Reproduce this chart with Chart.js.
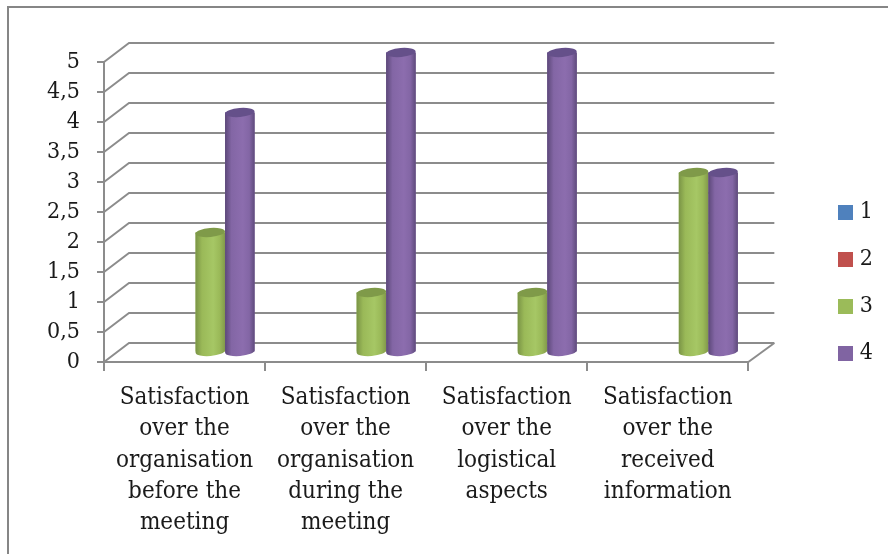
<!DOCTYPE html>
<html>
<head>
<meta charset="utf-8">
<title>Satisfaction</title>
<script src="https://cdn.jsdelivr.net/npm/chart.js@4"></script>
<style>
  html, body { margin: 0; padding: 0; background: #fff; }
  #frame { position: absolute; left: 7px; top: 6px; right: 0; bottom: 0; border-left: 2px solid #868686; border-top: 2px solid #868686; }
  #wrap { position: absolute; left: 0; top: 0; width: 888px; height: 554px; }
</style>
</head>
<body>
<div id="frame"></div>
<div id="wrap"><canvas id="satisfactionChart"></canvas></div>
<script>
const categories = [
    ['Satisfaction', 'over the', 'organisation', 'before the', 'meeting'],
    ['Satisfaction', 'over the', 'organisation', 'during the', 'meeting'],
    ['Satisfaction', 'over the', 'logistical', 'aspects'],
    ['Satisfaction', 'over the', 'received', 'information']
];
const seriesNames = ['1', '2', '3', '4'];
const series1 = [0, 0, 0, 0];
const series2 = [0, 0, 0, 0];
const series3 = [2, 1, 1, 3];
const series4 = [4, 5, 5, 3];
const yTicks = ['0', '0,5', '1', '1,5', '2', '2,5', '3', '3,5', '4', '4,5', '5'];

const seriesColors = ['#4f81bd', '#c0504d', '#9bbb59', '#8064a2'];
// left edge, mid, highlight, right edge and top cap for the cylinders
const shades = {
    2: ['#7a9446', '#9ab958', '#a6c765', '#82994b', '#7f9a49'],
    3: ['#5c4879', '#8366a5', '#8c6dae', '#5f4b7c', '#65508a']
};
const lineColor = '#8c8c8c';
const textColor = '#1a1a1a';
const fontName = '"DejaVu Serif Condensed", "DejaVu Serif", serif';

// depth of the box behind the front plane
const DEPTH_X = 26, DEPTH_Y = -19;

const box3d = {
    id: 'box3d',
    afterLayout(chart) {
        // legend sits to the right of the box, not against the plot
        const lg = chart.legend;
        lg.left = 814;
        lg.right = 873;
        lg.top -= 25;
        lg.bottom -= 25;
    },
    beforeDatasetsDraw(chart) {
        const { ctx, chartArea, scales } = chart;
        ctx.save();
        ctx.strokeStyle = lineColor;
        ctx.lineWidth = 2;
        scales.y.ticks.forEach(t => {
            const y = scales.y.getPixelForValue(t.value);
            ctx.beginPath();
            ctx.moveTo(chartArea.left, y);
            ctx.lineTo(chartArea.left + DEPTH_X - 1, y + DEPTH_Y);
            ctx.lineTo(chartArea.right + DEPTH_X, y + DEPTH_Y);
            ctx.stroke();
        });
        ctx.beginPath();
        ctx.moveTo(chartArea.right, chartArea.bottom);
        ctx.lineTo(chartArea.right + DEPTH_X, chartArea.bottom + DEPTH_Y);
        ctx.stroke();
        ctx.restore();

        // the bars stand in the middle of the floor
        ctx.save();
        ctx.translate(11, DEPTH_Y / 2);
    },
    afterDatasetsDraw(chart) {
        const { ctx } = chart;
        chart.data.datasets.forEach((ds, i) => {
            const sh = shades[i];
            if (!sh) return;
            chart.getDatasetMeta(i).data.forEach(bar => {
                const left = bar.x - bar.width / 2, w = bar.width, rx = w / 2, ry = 4.5;
                const g = ctx.createLinearGradient(left, 0, left + w, 0);
                g.addColorStop(0, sh[0]);
                g.addColorStop(0.22, sh[1]);
                g.addColorStop(0.6, sh[2]);
                g.addColorStop(0.82, sh[1]);
                g.addColorStop(1, sh[3]);
                ctx.fillStyle = g;
                ctx.beginPath();
                ctx.moveTo(left, bar.y);
                ctx.lineTo(left + w, bar.y);
                ctx.lineTo(left + w, bar.base);
                ctx.ellipse(bar.x, bar.base, rx, ry, -0.08, 0, Math.PI);
                ctx.closePath();
                ctx.fill();
                ctx.fillStyle = sh[4];
                ctx.beginPath();
                ctx.ellipse(bar.x, bar.y, rx, ry, -0.08, 0, Math.PI * 2);
                ctx.fill();
            });
        });
        ctx.restore();
    }
};

const values = [series1, series2, series3, series4];

new Chart(document.getElementById('satisfactionChart').getContext('2d'), {
    type: 'bar',
    data: {
        labels: categories,
        datasets: seriesNames.map((name, i) => ({
            label: name,
            data: values[i],
            backgroundColor: seriesColors[i],
            borderWidth: 0,
            clip: false,
            barPercentage: 1,
            categoryPercentage: 0.733
        }))
    },
    plugins: [box3d],
    options: {
        responsive: true,
        maintainAspectRatio: false,
        animation: false,
        layout: { padding: { top: 62, right: 66, left: 0, bottom: 0 } },
        plugins: {
            title: { display: false },
            tooltip: { enabled: false },
            legend: {
                position: 'right',
                labels: {
                    boxWidth: 15,
                    boxHeight: 15,
                    padding: 24,
                    color: textColor,
                    textAlign: 'right',
                    font: { family: fontName, size: 23 }
                }
            }
        },
        scales: {
            x: {
                afterFit(scale) { scale.height = 192; },
                border: { color: lineColor, width: 2 },
                grid: { display: true, drawOnChartArea: false, color: lineColor, lineWidth: 2, tickLength: 9 },
                ticks: {
                    color: textColor,
                    maxRotation: 0,
                    autoSkip: false,
                    padding: 11,
                    font: { family: fontName, size: 24, lineHeight: 1.305 }
                }
            },
            y: {
                min: 0,
                max: 5,
                afterFit(scale) { scale.width = 104; },
                border: { color: lineColor, width: 2 },
                grid: { display: true, drawOnChartArea: false, color: lineColor, lineWidth: 2, tickLength: 7 },
                ticks: {
                    stepSize: 0.5,
                    autoSkip: false,
                    color: textColor,
                    padding: 17,
                    font: { family: fontName, size: 23 },
                    callback: (value, index) => yTicks[index]
                }
            }
        }
    }
});
</script>
</body>
</html>
